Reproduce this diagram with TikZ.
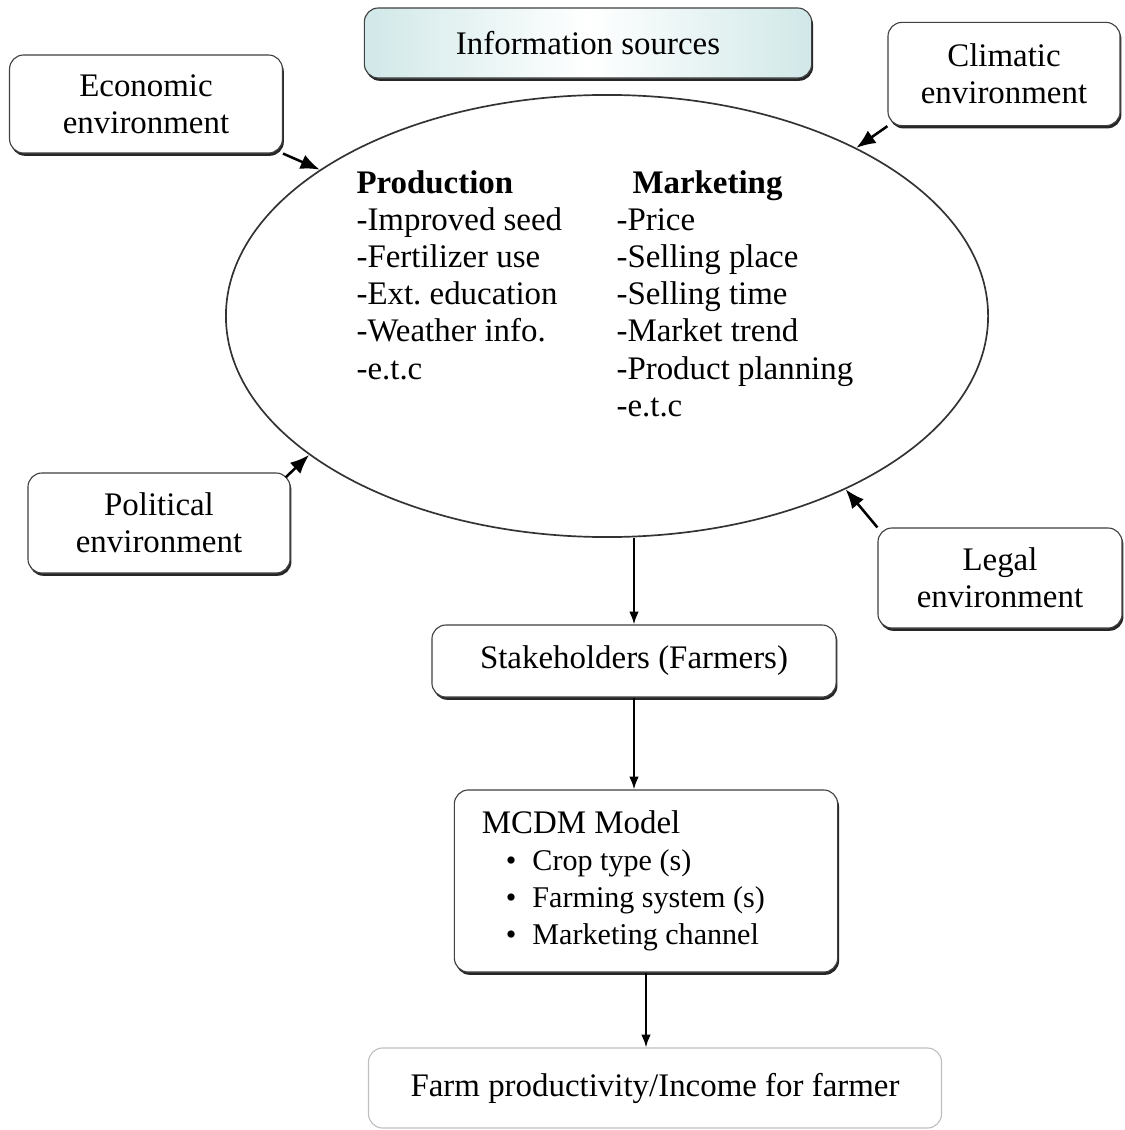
\documentclass[tikz,border=0pt]{standalone}
\usepackage{fontspec}
\setmainfont{Liberation Serif}
\usetikzlibrary{arrows.meta,positioning,shapes.geometric,shadows}

\begin{document}
\begin{tikzpicture}[x=0.0125cm,y=-0.0125cm,>=Latex,
  font=\fontsize{11.7}{13.2}\selectfont,
  envbox/.style={draw=black!75,rounded corners=5pt,fill=white,align=center,inner sep=2pt,
    drop shadow={shadow xshift=0.5pt,shadow yshift=-1pt,fill=black!85,opacity=1}},
  itemtext/.style={align=left,anchor=north west,inner sep=0pt},
  flow/.style={-{Latex[length=2.4mm,width=1.9mm]},line width=0.9pt},
  godown/.style={-{Latex[length=1.6mm,width=1.2mm]},line width=0.7pt}]
\useasboundingbox (0,0) rectangle (1124,1130);

% sources and environments
\node[envbox,minimum width=5.59cm,minimum height=0.875cm,left color=teal!18!white,right color=teal!18!white,middle color=white] (info_src) at (588,43) {Information sources};
\node[envbox,minimum width=3.41cm,minimum height=1.225cm] (env_econ) at (146,104) {Economic\\environment};
\node[envbox,minimum width=2.9cm,minimum height=1.29cm] (env_clim) at (1004,74) {Climatic\\environment};
\node[envbox,minimum width=3.275cm,minimum height=1.25cm] (env_pol) at (159,523) {Political\\environment};
\node[envbox,minimum width=3.05cm,minimum height=1.25cm] (env_legal) at (1000,578) {Legal\\environment};

% the information ellipse
\node[draw=black!80,line width=0.6pt,ellipse,minimum width=9.525cm,minimum height=5.525cm,inner sep=0pt] (info_ell) at (607,316) {};
\node[itemtext] (prod_list) at (356,170) {\textbf{Production}\\-Improved seed\\-Fertilizer use\\-Ext.\ education\\-Weather info.\\-e.t.c};
\node[itemtext] (mkt_list) at (616,170) {\hspace*{0.2cm}\textbf{Marketing}\\-Price\\-Selling place\\-Selling time\\-Market trend\\-Product planning\\-e.t.c};

% decision chain
\node[envbox,minimum width=5.05cm,minimum height=0.9cm] (stake) at (634,661) {Stakeholders (Farmers)};
\node[envbox,minimum width=4.79cm,minimum height=2.275cm,align=flush left,text width=4.1cm,inner xsep=0.325cm] (mcdm) at (646,881) {MCDM Model\\\fontsize{10.7}{13.2}\selectfont
  \hspace*{0.3cm}\textbullet\hspace{0.2cm}Crop type (s)\\\hspace*{0.3cm}\textbullet\hspace{0.2cm}Farming system (s)\\\hspace*{0.3cm}\textbullet\hspace{0.2cm}Marketing channel};
\node[draw=black!25,rounded corners=5pt,minimum width=7.16cm,minimum height=1.0cm] (farm_out) at (655,1088) {Farm productivity/Income for farmer};

\draw[flow] (env_econ.south east) -- (info_ell.153);
\draw[flow] (env_clim.south west) -- (info_ell.34);
\draw[flow] ([shift={(-5,5)}]env_pol.north east) -- (info_ell.205);
\draw[flow] (env_legal.north west) -- (info_ell.324);
\draw[godown] (stake.north |- info_ell.south) -- (stake.north);
\draw[godown] (stake.south) -- (mcdm.north -| stake.south);
\draw[godown] (mcdm.south) -- (farm_out.north -| mcdm.south);
\end{tikzpicture}
\end{document}
